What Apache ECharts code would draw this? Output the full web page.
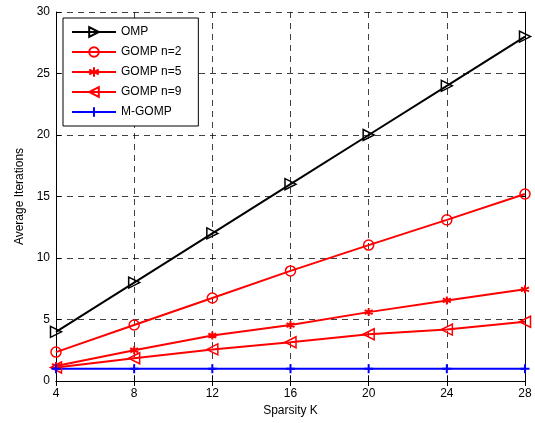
<!DOCTYPE html>
<html><head><meta charset="utf-8">
<script src="https://cdn.jsdelivr.net/npm/echarts@6/dist/echarts.min.js"></script>
<style>html,body{margin:0;padding:0;background:#fff}#c{width:535px;height:423px}</style>
</head><body><div id="c"></div>
<script>
var categories = [4, 8, 12, 16, 20, 24, 28];
var omp = [4, 8, 12, 16, 20, 24, 28];
var gomp2 = [2.35, 4.55, 6.75, 8.95, 11.05, 13.1, 15.2];
var gomp5 = [1.22, 2.5, 3.7, 4.55, 5.6, 6.55, 7.45];
var gomp9 = [1.1, 1.85, 2.57, 3.15, 3.8, 4.18, 4.82];
var mgomp = [1, 1, 1, 1, 1, 1, 1];
var yTicks = [0, 5, 10, 15, 20, 25, 30];

function pairs(v){ return categories.map(function(k,i){ return [k, v[i]]; }); }
var font = 'Liberation Sans, Arial, sans-serif';
var triR = 'path://M0,0 L10,5 L0,10 Z';
var triL = 'path://M10,0 L0,5 L10,10 Z';
var star = 'path://M5,0 L5,10 M0.7,2.5 L9.3,7.5 M0.7,7.5 L9.3,2.5 M3.5,5 L6.5,5';
var plus = 'path://M5,0 L5,10 M0,5 L10,5';
function s(name, data, color, symbol, size, bw){
  return {name:name, type:'line', data:pairs(data), symbol:symbol, symbolSize:size,
    showAllSymbol:true, clip:false,
    lineStyle:{color:color, width:2},
    itemStyle:{color:'rgba(0,0,0,0)', borderColor:color, borderWidth:bw || 1.5},
    emphasis:{disabled:true}};
}
var chart = echarts.init(document.getElementById('c'));
var axisLine = {show:true, lineStyle:{color:'#000', width:1}};
chart.setOption({
  animation:false,
  grid:{left:56, right:10, top:12, bottom:42},
  legend:{left:63, top:18, orient:'vertical', backgroundColor:'#fff',
    borderColor:'#000', borderWidth:1, padding:[8,17,8,8], itemGap:8,
    itemWidth:44, itemHeight:12,
    textStyle:{fontFamily:font, fontSize:12, color:'#000'},
    data:['OMP','GOMP n=2','GOMP n=5','GOMP n=9','M-GOMP']},
  xAxis:[{type:'value', min:4, max:28, interval:4, name:'Sparsity K', nameLocation:'middle', nameGap:24,
    nameTextStyle:{fontFamily:font, fontSize:12, color:'#000'},
    axisLine:axisLine, axisTick:{inside:true, length:5, lineStyle:{color:'#000'}},
    axisLabel:{fontFamily:font, fontSize:12, color:'#000', margin:7},
    splitLine:{show:true, lineStyle:{color:'#000', type:[6,5], width:1, opacity:0.75}}},
    {type:'value', position:'top', min:4, max:28, interval:4, axisLine:axisLine,
     axisTick:{inside:true, length:5, lineStyle:{color:'#000'}}, axisLabel:{show:false}, splitLine:{show:false}}],
  yAxis:[{type:'value', min:0, max:30, interval:5, name:'Average Iterations', nameLocation:'middle', nameGap:30,
    nameTextStyle:{fontFamily:font, fontSize:12, color:'#000'},
    axisLine:axisLine, axisTick:{inside:true, length:5, lineStyle:{color:'#000'}},
    axisLabel:{fontFamily:font, fontSize:12, color:'#000', margin:6},
    splitLine:{show:true, lineStyle:{color:'#000', type:[6,5], width:1, opacity:0.75}}},
    {type:'value', position:'right', min:0, max:30, interval:5, axisLine:axisLine,
     axisTick:{inside:true, length:5, lineStyle:{color:'#000'}}, axisLabel:{show:false}, splitLine:{show:false}}],
  series:[
    s('OMP', omp, '#000', triR, 11),
    s('GOMP n=2', gomp2, '#ff0000', 'circle', 10),
    s('GOMP n=5', gomp5, '#ff0000', star, 8, 2),
    s('GOMP n=9', gomp9, '#ff0000', triL, 11),
    s('M-GOMP', mgomp, '#0000ff', plus, 9, 2)
  ]
});
</script></body></html>
